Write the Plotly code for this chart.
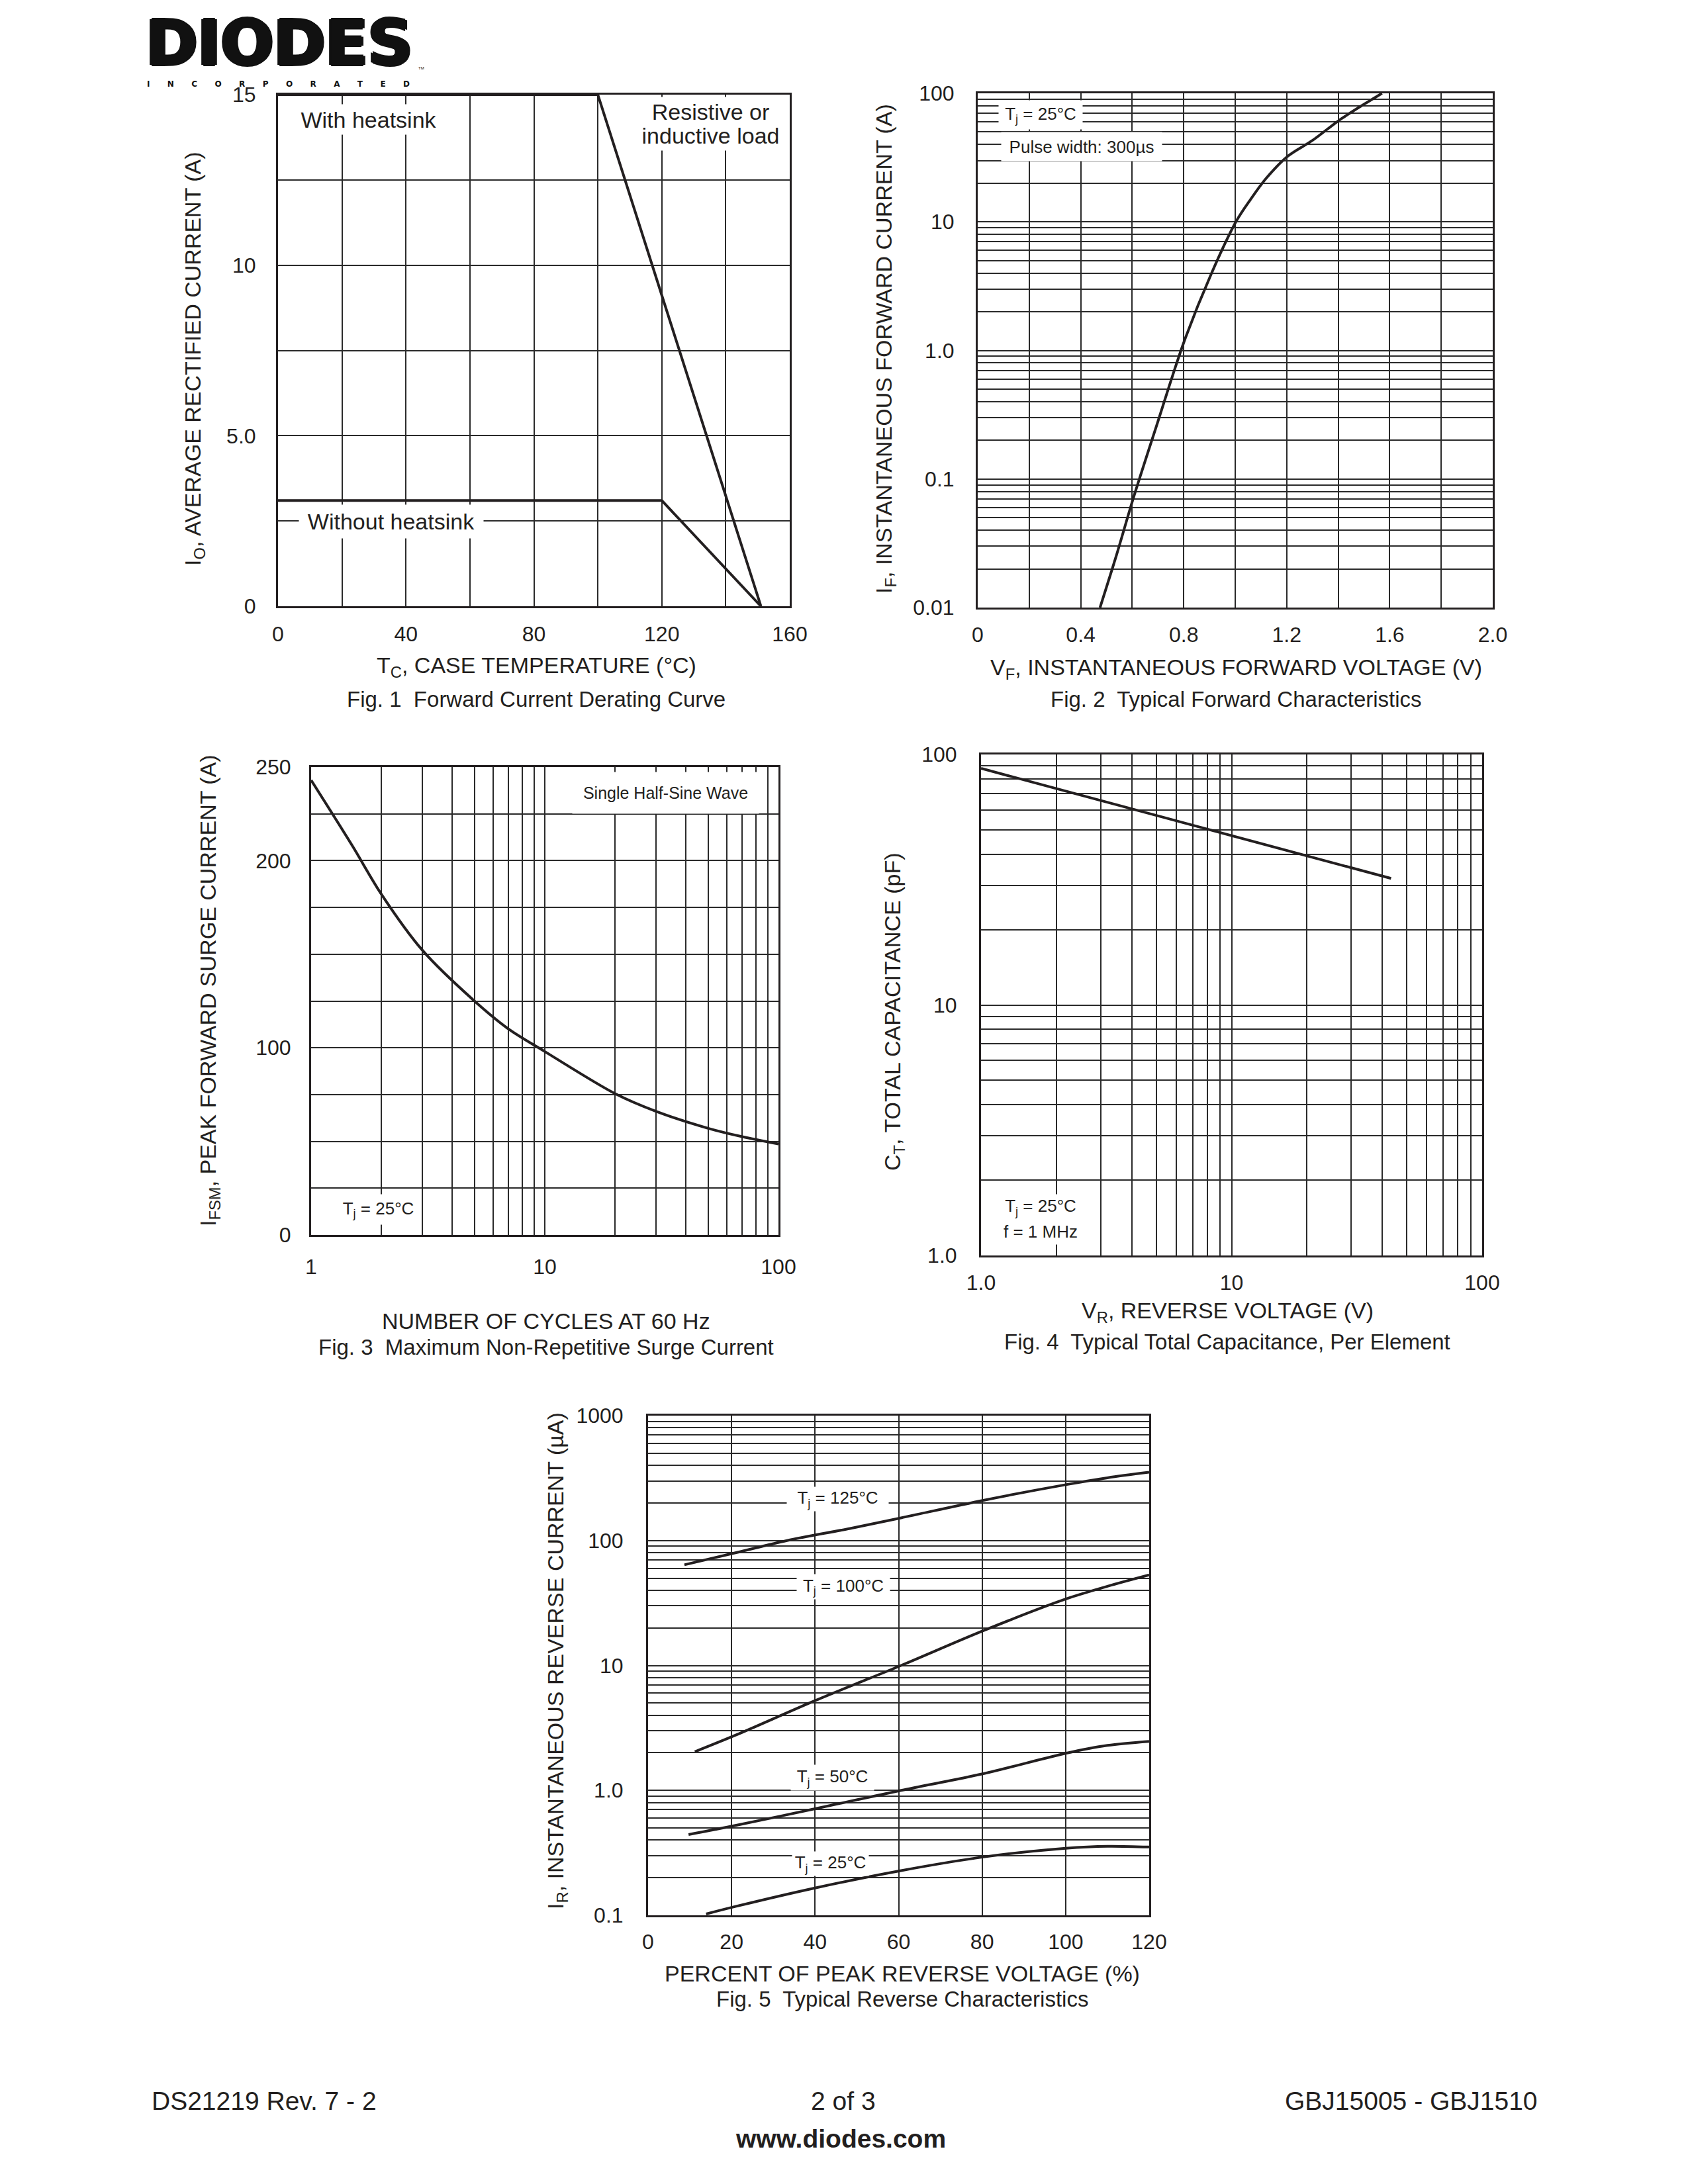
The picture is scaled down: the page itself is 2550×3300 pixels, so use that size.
import plotly.graph_objects as go

PAGE_W, PAGE_H = 2550, 3300
BODY_MARGIN = 8  # default page margin around the plot div
FONT = "Liberation Sans, Arial, Helvetica, sans-serif"
LOGO_FONT = "DejaVu Sans, Liberation Sans, sans-serif"
INK = "#231f20"
GRID = "#2a2a2a"

# ---------------- Fig. 1 data ----------------
fig1_tc_with = [0, 100, 151]
fig1_io_with = [15.0, 15.0, 0.0]
fig1_tc_without = [0, 120, 151]
fig1_io_without = [3.1, 3.1, 0.0]
fig1_x_ticks = [0, 20, 40, 60, 80, 100, 120, 140, 160]
fig1_x_labels = ["0", "", "40", "", "80", "", "120", "", "160"]
fig1_y_ticks = [0, 2.5, 5, 7.5, 10, 12.5, 15]
fig1_y_labels = ["0", "", "5.0", "", "10", "", "15"]

# ---------------- Fig. 2 data ----------------
fig2_vf = [0.475, 0.54, 0.603, 0.693, 0.80, 0.906, 1.005, 1.06, 1.12, 1.205, 1.30, 1.415, 1.57]
fig2_if = [0.01, 0.026, 0.0695, 0.254, 1.15, 3.9, 10.2, 15.0, 21.8, 32.5, 43.0, 64.0, 100.0]
fig2_x_ticks = [0, 0.2, 0.4, 0.6, 0.8, 1.0, 1.2, 1.4, 1.6, 1.8, 2.0]
fig2_x_labels = ["0", "", "0.4", "", "0.8", "", "1.2", "", "1.6", "", "2.0"]
fig2_y_decades = [0.01, 0.1, 1, 10, 100]
fig2_y_decade_labels = ["0.01", "0.1", "1.0", "10", "100"]

# ---------------- Fig. 3 data ----------------
fig3_cycles = [1, 1.5, 2, 3, 5, 7, 10, 20, 30, 50, 70, 100]
fig3_ifsm = [243, 208, 182, 152, 125, 110, 98, 75.5, 66, 57, 52.5, 48.6]
fig3_x_decades = [1, 10, 100]
fig3_x_decade_labels = ["1", "10", "100"]
fig3_y_ticks = [0, 25, 50, 75, 100, 125, 150, 175, 200, 225, 250]
fig3_y_labels = ["0", "", "", "", "100", "", "", "", "200", "", "250"]

# ---------------- Fig. 4 data ----------------
fig4_vr = [1.0, 10.0, 43.3]
fig4_ct = [88.0, 47.5, 32.0]
fig4_x_decades = [1, 10, 100]
fig4_x_decade_labels = ["1.0", "10", "100"]
fig4_y_decades = [1, 10, 100]
fig4_y_decade_labels = ["1.0", "10", "100"]

# ---------------- Fig. 5 data ----------------
fig5_pct_125 = [8.7, 21.1, 33.3, 48.4, 60.6, 80.3, 100, 110, 120]
fig5_ir_125 = [64, 80, 100, 125, 152, 210, 280, 318, 352]
fig5_pct_100 = [11.2, 21.1, 39.8, 60.6, 80.3, 100, 110, 120]
fig5_ir_100 = [2.04, 2.78, 5.2, 10.0, 19.0, 34.0, 43.0, 53.0]
fig5_pct_50 = [9.7, 21.1, 39.8, 60.6, 80.3, 100, 110, 120]
fig5_ir_50 = [0.443, 0.525, 0.71, 1.0, 1.36, 1.98, 2.29, 2.47]
fig5_pct_25 = [13.9, 21.1, 39.8, 60.6, 80.3, 100, 110, 120]
fig5_ir_25 = [0.1025, 0.118, 0.165, 0.228, 0.293, 0.344, 0.357, 0.352]
fig5_x_ticks = [0, 20, 40, 60, 80, 100, 120]
fig5_x_labels = ["0", "20", "40", "60", "80", "100", "120"]
fig5_y_decades = [0.1, 1, 10, 100, 1000]
fig5_y_decade_labels = ["0.1", "1.0", "10", "100", "1000"]

# ---------------- layout geometry (page pixels: left, top, right, bottom) ----------------
P1 = (420, 143, 1193, 916)
P2 = (1477, 141, 2255, 918)
P3 = (470, 1159, 1176, 1866)
P4 = (1482, 1140, 2239, 1897)
P5 = (979, 2139, 1736, 2894)


def px(x):
    return (x - BODY_MARGIN) / PAGE_W


def py(y):
    return 1 - (y - BODY_MARGIN) / PAGE_H


def log_grid(decades, labels):
    vals, texts = [], []
    for i, d in enumerate(decades):
        vals.append(d)
        texts.append(labels[i])
        if i < len(decades) - 1:
            for m in range(2, 10):
                vals.append(m * d)
                texts.append("")
    return vals, texts


def axis(p, is_x, rng, typ, tickvals, ticktext, standoff, anchor):
    dom = [px(p[0]), px(p[2])] if is_x else [py(p[3]), py(p[1])]
    return dict(
        domain=dom, range=rng, type=typ, tickmode="array", tickvals=tickvals, ticktext=ticktext,
        showgrid=True, gridcolor=GRID, gridwidth=2, showline=True, linecolor=INK, linewidth=3,
        mirror=True, ticks="", zeroline=False, anchor=anchor, fixedrange=True, automargin=False,
        tickfont=dict(family=FONT, size=32, color=INK), ticklabelstandoff=standoff,
    )


fig = go.Figure()


def line(x, y, ax, shape="spline"):
    fig.add_trace(go.Scatter(x=x, y=y, mode="lines",
                             line=dict(color=INK, width=4, shape=shape, smoothing=0.9),
                             xaxis="x" + ax, yaxis="y" + ax, showlegend=False, hoverinfo="skip"))


line(fig1_tc_with, fig1_io_with, "", "linear")
line(fig1_tc_without, fig1_io_without, "", "linear")
line(fig2_vf, fig2_if, "2")
line(fig3_cycles, fig3_ifsm, "3")
line(fig4_vr, fig4_ct, "4", "linear")
line(fig5_pct_125, fig5_ir_125, "5")
line(fig5_pct_100, fig5_ir_100, "5")
line(fig5_pct_50, fig5_ir_50, "5")
line(fig5_pct_25, fig5_ir_25, "5")

f2y_v, f2y_t = log_grid(fig2_y_decades, fig2_y_decade_labels)
f3x_v, f3x_t = log_grid(fig3_x_decades, fig3_x_decade_labels)
f4x_v, f4x_t = log_grid(fig4_x_decades, fig4_x_decade_labels)
f4y_v, f4y_t = log_grid(fig4_y_decades, fig4_y_decade_labels)
f5y_v, f5y_t = log_grid(fig5_y_decades, fig5_y_decade_labels)

layout_axes = dict(
    xaxis=axis(P1, True, [0, 160], "linear", fig1_x_ticks, fig1_x_labels, 12, "y"),
    yaxis=axis(P1, False, [0, 15], "linear", fig1_y_ticks, fig1_y_labels, 24, "x"),
    xaxis2=axis(P2, True, [0, 2.0], "linear", fig2_x_ticks, fig2_x_labels, 11, "y2"),
    yaxis2=axis(P2, False, [-2, 2], "log", f2y_v, f2y_t, 26, "x2"),
    xaxis3=axis(P3, True, [0, 2], "log", f3x_v, f3x_t, 18, "y3"),
    yaxis3=axis(P3, False, [0, 250], "linear", fig3_y_ticks, fig3_y_labels, 21, "x3"),
    xaxis4=axis(P4, True, [0, 2], "log", f4x_v, f4x_t, 11, "y4"),
    yaxis4=axis(P4, False, [0, 2], "log", f4y_v, f4y_t, 27, "x4"),
    xaxis5=axis(P5, True, [0, 120], "linear", fig5_x_ticks, fig5_x_labels, 10, "y5"),
    yaxis5=axis(P5, False, [-1, 3], "log", f5y_v, f5y_t, 28, "x5"),
)

ann = []


def note(text, x, y, size, **kw):
    d = dict(text=text, x=px(x), y=py(y), xref="paper", yref="paper", showarrow=False,
             xanchor="center", yanchor="middle", font=dict(family=FONT, size=size, color=INK))
    d.update(kw)
    ann.append(d)


def box(text, x, y, size, w, h):
    note(text, x, y, size, bgcolor="white", width=w, height=h, borderpad=0)


# logo
LOGO_SHADOW = "3px 0px 0px #111111, -3px 0px 0px #111111, 0px 2px 0px #111111, 0px -2px 0px #111111"
note("DIODES", 422, 65, 94, height=84, width=440, borderpad=0,
     font=dict(family=LOGO_FONT, size=94, color="#111111", weight="bold", shadow=LOGO_SHADOW))
LETTER_GAP = "\u2003\u2003\u2009"
note(LETTER_GAP.join("INCORPORATED"), 420, 127, 12, borderpad=0,
     font=dict(family=LOGO_FONT, size=12, color="#111111", weight="bold"))
note("TM", 636, 103, 6, borderpad=0, font=dict(family=FONT, size=6, color="#111111"))

# Fig 1
box("With heatsink", 557, 181, 34, 232, 45)
box("Resistive or", 1073, 169, 34, 221, 44)
box("inductive load", 1073, 205, 34, 221, 44)
box("Without heatsink", 591, 788, 34, 278, 50)
note("I<sub>O</sub>, AVERAGE RECTIFIED CURRENT (A)", 293, 542, 34, textangle=-90)
note("T<sub>C</sub>, CASE TEMPERATURE (°C)", 810, 1008, 34)
note("Fig. 1  Forward Current Derating Curve", 810, 1056, 33)

# Fig 2
box("T<sub>j</sub> = 25°C", 1572, 174, 26, 126, 43)
box("Pulse width: 300µs", 1634, 221, 26, 242, 43)
note("I<sub>F</sub>, INSTANTANEOUS FORWARD CURRENT (A)", 1338, 527, 34, textangle=-90)
note("V<sub>F</sub>, INSTANTANEOUS FORWARD VOLTAGE (V)", 1867, 1010, 34)
note("Fig. 2  Typical Forward Characteristics", 1867, 1056, 33)

# Fig 3
box("Single Half-Sine Wave", 1005, 1198, 25, 281, 62)
box("T<sub>j</sub> = 25°C", 571, 1827, 26, 125, 45)
note("I<sub>FSM</sub>, PEAK FORWARD SURGE CURRENT (A)", 317, 1497, 34, textangle=-90)
note("NUMBER OF CYCLES AT 60 Hz", 825, 1996, 34)
note("Fig. 3  Maximum Non-Repetitive Surge Current", 825, 2036, 33)

# Fig 4
box("T<sub>j</sub> = 25°C", 1572, 1824, 26, 128, 38)
box("f = 1 MHz", 1572, 1861, 26, 128, 38)
note("C<sub>T</sub>, TOTAL CAPACITANCE (pF)", 1350, 1529, 34, textangle=-90)
note("V<sub>R</sub>, REVERSE VOLTAGE (V)", 1854, 1982, 34)
note("Fig. 4  Typical Total Capacitance, Per Element", 1854, 2027, 33)

# Fig 5
box("T<sub>j</sub> = 125°C", 1265, 2265, 26, 153, 36)
box("T<sub>j</sub> = 100°C", 1274, 2397, 26, 140, 37)
box("T<sub>j</sub> = 50°C", 1257, 2686, 26, 125, 38)
box("T<sub>j</sub> = 25°C", 1254, 2816, 26, 115, 36)
note("I<sub>R</sub>, INSTANTANEOUS REVERSE CURRENT (µA)", 841, 2510, 34, textangle=-90)
note("PERCENT OF PEAK REVERSE VOLTAGE (%)", 1363, 2982, 34)
note("Fig. 5  Typical Reverse Characteristics", 1363, 3020, 33)

# footer
note("DS21219 Rev. 7 - 2", 227, 3174, 39, xanchor="left")
note("2 of 3", 1274, 3174, 39)
note("GBJ15005 - GBJ1510", 2325, 3174, 39, xanchor="right")
note("www.diodes.com", 1270, 3231, 39, font=dict(family=FONT, size=39, color=INK, weight="bold"))

fig.update_layout(
    template="none",
    width=PAGE_W, height=PAGE_H, margin=dict(l=0, r=0, t=0, b=0, pad=0, autoexpand=False),
    paper_bgcolor="white", plot_bgcolor="white", showlegend=False,
    annotations=ann, font=dict(family=FONT, color=INK), **layout_axes,
)

fig.write_html("out.html", config={"displayModeBar": False})
